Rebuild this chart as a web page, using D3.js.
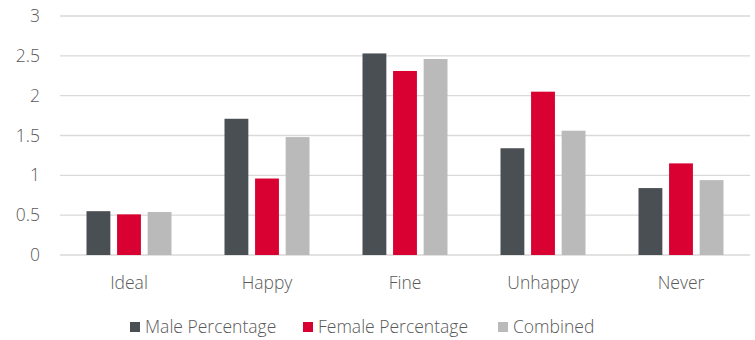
<!DOCTYPE html>
<html>
<head>
<meta charset="utf-8">
<script src="https://cdn.jsdelivr.net/npm/d3@7"></script>
<style>
  html, body { margin: 0; padding: 0; background: #fff; }
  svg { display: block; font-family: "Open Sans", sans-serif; }
</style>
</head>
<body>
<svg id="chart" width="755" height="340"></svg>
<script>
const categories = ["Ideal", "Happy", "Fine", "Unhappy", "Never"];
const seriesNames = ["Male Percentage", "Female Percentage", "Combined"];
const male = [0.55, 1.71, 2.53, 1.34, 0.84];
const female = [0.51, 0.96, 2.31, 2.05, 1.15];
const combined = [0.54, 1.48, 2.46, 1.56, 0.94];
const yTicks = [0, 0.5, 1, 1.5, 2, 2.5, 3];
const colors = ["#4a4f54", "#d90032", "#bababa"];

const seriesValues = [male, female, combined];
const svg = d3.select("#chart");
const plotLeft = 60, plotRight = 750, plotTop = 16, plotBottom = 255;
const fontFamily = "'Open Sans', sans-serif";
const fontSize = "17.5px";
const textColor = "#595959";

const x0 = d3.scaleBand().domain(categories).range([plotLeft, plotRight])
  .paddingInner(0.384).paddingOuter(0.192);
const x1 = d3.scaleBand().domain(seriesNames).range([0, x0.bandwidth()])
  .paddingInner(0.22);
const y = d3.scaleLinear().domain([0, 3]).range([plotBottom, plotTop]);

// horizontal gridlines
svg.append("g").selectAll("line").data(yTicks).join("line")
  .attr("x1", plotLeft).attr("x2", plotRight)
  .attr("y1", d => y(d)).attr("y2", d => y(d))
  .attr("stroke", "#d9d9d9").attr("stroke-width", 1.3);

// y axis labels
const yAxis = d3.axisLeft(y).tickValues(yTicks).tickSize(0).tickPadding(0)
  .tickFormat(d3.format("~g"));
svg.append("g").attr("transform", `translate(${plotLeft - 20},0)`).call(yAxis)
  .call(g => g.select(".domain").remove())
  .selectAll("text")
  .attr("fill", textColor).style("font-size", fontSize)
  .style("font-family", fontFamily).style("font-weight", 300);

// bars
const groups = svg.append("g").selectAll("g").data(categories).join("g")
  .attr("transform", d => `translate(${x0(d)},0)`);
groups.selectAll("rect")
  .data((c, i) => seriesNames.map((s, j) => ({ s, v: seriesValues[j][i], j })))
  .join("rect")
  .attr("x", d => x1(d.s))
  .attr("y", d => y(d.v))
  .attr("width", x1.bandwidth())
  .attr("height", d => y(0) - y(d.v))
  .attr("fill", d => colors[d.j]);

// category labels
const xAxis = d3.axisBottom(x0).tickSize(0).tickPadding(0);
svg.append("g").attr("transform", `translate(0,${plotBottom + 28})`).call(xAxis)
  .call(g => g.select(".domain").remove())
  .selectAll("text")
  .attr("fill", textColor).style("font-size", fontSize)
  .style("font-family", fontFamily).style("font-weight", 300)
  .attr("dy", "0.35em").attr("y", 0);

// legend
const legendX = [130, 303, 498];
const legend = svg.append("g").selectAll("g").data(seriesNames).join("g")
  .attr("transform", (d, i) => `translate(${legendX[i]},327)`);
legend.append("rect").attr("x", 0).attr("y", -5).attr("width", 10).attr("height", 10)
  .attr("fill", (d, i) => colors[i]);
legend.append("text").attr("x", 15).attr("y", 0).attr("dy", "0.35em")
  .attr("fill", textColor).style("font-size", fontSize).style("font-family", fontFamily)
  .style("font-weight", 300)
  .text(d => d);
</script>
</body>
</html>
